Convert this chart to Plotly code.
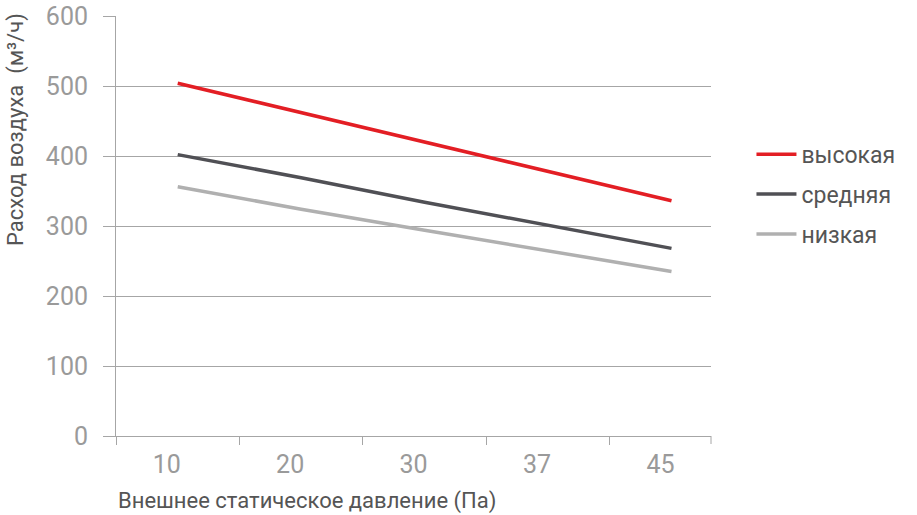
import plotly.graph_objects as go

pressure = ["10", "20", "30", "37", "45"]
high = [504, 462, 420, 378, 336]
medium = [402, 369, 334, 301, 268]
low = [356, 324, 294, 265, 235]

series = [
    ("высокая", high, "#e31e24"),
    ("средняя", medium, "#505055"),
    ("низкая", low, "#b0b0b0"),
]

grid_col = "#a6a6a6"
tick_col = "#9a9a9a"
text_col = "#555555"
font_family = "Roboto, Arial, sans-serif"

fig = go.Figure()
for name, vals, col in series:
    fig.add_trace(go.Scatter(x=pressure, y=vals, mode="lines", name=name, legendgroup=name,
                             line=dict(color=col, width=3.5)))

fig.update_layout(
    width=917, height=515,
    margin=dict(l=116, r=206, t=16, b=79),
    paper_bgcolor="white", plot_bgcolor="white",
    font=dict(family=font_family, color=text_col),
    legend=dict(x=1.068, y=0.722, xanchor="left", yanchor="top",
                font=dict(size=23, color=text_col), itemwidth=40,
                tracegroupgap=7),
    showlegend=True,
)

# the last category is cut short at the right edge, as in the original
fig.update_xaxes(
    type="category", range=[-0.5, 4.32], automargin=False,
    tickson="boundaries", ticks="outside", ticklen=8, tickcolor=grid_col,
    showgrid=False, showline=True, linecolor=grid_col, linewidth=1,
    tickfont=dict(size=25, color=tick_col, family=font_family),
    ticklabelshift=-11, ticklabelstandoff=6,
)
fig.update_yaxes(
    range=[0, 600], dtick=100, automargin=False, ticks="outside", ticklen=12, tickcolor=grid_col,
    showgrid=True, gridcolor=grid_col, gridwidth=1,
    showline=True, linecolor=grid_col, linewidth=1, zeroline=False,
    tickfont=dict(size=25, color=tick_col, family=font_family),
    ticklabelstandoff=10,
)

# end tick at the right edge of the x axis
fig.add_shape(type="line", xref="paper", x0=1, x1=1, yref="paper", ysizemode="pixel",
              yanchor=0, y0=0, y1=-8, line=dict(color=grid_col, width=1))

fig.add_annotation(text="Внешнее статическое давление (Па)", xref="paper", yref="paper",
                   x=0, y=-0.155, xanchor="left", yanchor="middle", showarrow=False,
                   font=dict(size=22, color=text_col))
fig.add_annotation(text="Расход воздуха  (м³/ч)", xref="paper", yref="paper",
                   x=-0.167, y=0.73, xanchor="center", yanchor="middle", textangle=-90,
                   showarrow=False, font=dict(size=22, color=text_col))

fig.write_html("out.html", config={"displayModeBar": False},
               post_script="document.body.style.margin='0';")
